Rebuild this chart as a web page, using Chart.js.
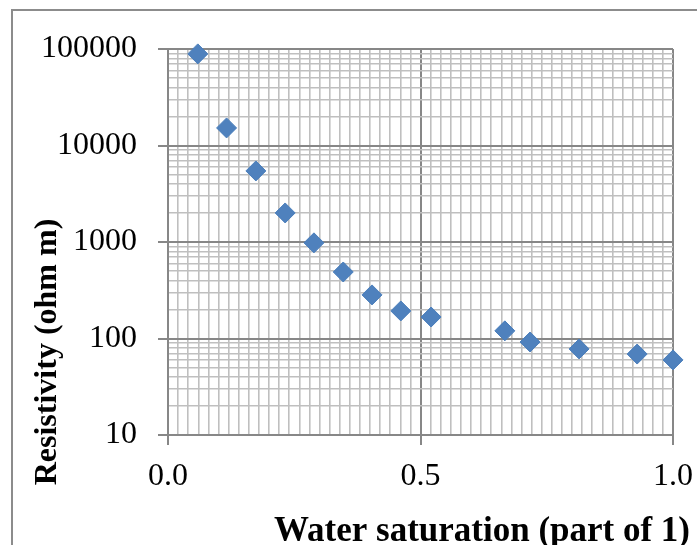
<!DOCTYPE html>
<html>
<head>
<meta charset="utf-8">
<script src="https://cdn.jsdelivr.net/npm/chart.js@4"></script>
<style>
  body { margin: 0; background: #fff; }
  #wrap { position: relative; width: 697px; height: 545px; overflow: hidden; }
  #frame { position: absolute; left: 11px; top: 9px; width: 800px; height: 700px; border: 2px solid #8c8c8c; box-sizing: border-box; }
  canvas { position: absolute; left: 0; top: 0; }
</style>
</head>
<body>
<div id="wrap">
  <div id="frame"></div>
  <canvas id="grafico" width="697" height="545"></canvas>
</div>
<script>
// datos
const saturacion = [0.059, 0.116, 0.174, 0.232, 0.289, 0.347, 0.404, 0.461, 0.521, 0.667, 0.717, 0.814, 0.929, 1.0];
const resistividad = [89000, 15200, 5450, 2000, 980, 489, 283, 193, 167, 120, 92, 78, 69, 60];
const etiquetasX = [0, 0.5, 1.0];
const etiquetasY = [10, 100, 1000, 10000, 100000];
const tituloX = 'Water saturation (part of 1)';
const tituloY = 'Resistivity (ohm m)';

const fuente = '"Liberation Serif", "Times New Roman", serif';
const colorMayor = '#878787';
const colorMenor = '#bfbfbf';

function esEtiquetaX(v) {
    return etiquetasX.some(e => Math.abs(e - v) < 1e-6);
}
function esDecada(v) {
    return etiquetasY.some(e => Math.abs(e - v) < 1e-6);
}

// titulos de los ejes, como en el original (no centrados en el area)
const titulosEjes = {
    id: 'titulosEjes',
    afterDraw(chart) {
        const ctx = chart.ctx;
        const area = chart.chartArea;
        ctx.save();
        ctx.fillStyle = '#000';
        ctx.textAlign = 'center';
        ctx.textBaseline = 'alphabetic';
        ctx.font = 'bold 35px ' + fuente;
        ctx.fillText(tituloX, area.right - 191, chart.height - 4);
        ctx.translate(56, area.bottom - 83);
        ctx.rotate(-Math.PI / 2);
        ctx.font = 'bold 32px ' + fuente;
        ctx.fillText(tituloY, 0, 0);
        ctx.restore();
    }
};

window.onload = function() {
    const ctx = document.getElementById('grafico').getContext('2d');
    const puntos = saturacion.map((x, i) => ({ x: x, y: resistividad[i] }));

    new Chart(ctx, {
        type: 'scatter',
        data: {
            datasets: [{
                data: puntos,
                pointStyle: 'rectRot',
                pointRadius: 10,
                backgroundColor: '#4f81bd',
                borderColor: '#4a7ebb',
                borderWidth: 1,
                clip: false
            }]
        },
        plugins: [titulosEjes],
        options: {
            responsive: false,
            animation: false,
            layout: { padding: { left: 0, top: 49, right: 24, bottom: 0 } },
            plugins: {
                legend: { display: false },
                tooltip: { enabled: false }
            },
            scales: {
                x: {
                    type: 'linear',
                    min: 0,
                    max: 1,
                    afterFit: s => {
                        s.height = 110;
                        s.paddingLeft = 0;
                        s.paddingRight = 0;
                    },
                    ticks: {
                        stepSize: 0.02,
                        autoSkip: false,
                        maxRotation: 0,
                        padding: 12,
                        color: '#000',
                        font: { family: fuente, size: 32 },
                        callback: v => esEtiquetaX(v) ? v.toFixed(1) : ''
                    },
                    grid: {
                        color: c => esEtiquetaX(c.tick.value) ? colorMayor : colorMenor,
                        lineWidth: c => esEtiquetaX(c.tick.value) ? 2 : 1.6,
                        tickLength: 10,
                        tickColor: c => esEtiquetaX(c.tick.value) ? colorMayor : 'rgba(0,0,0,0)'
                    },
                    border: { color: colorMayor, width: 2 }
                },
                y: {
                    type: 'logarithmic',
                    min: 10,
                    max: 100000,
                    afterFit: s => {
                        s.width = 168;
                        s.paddingTop = 0;
                        s.paddingBottom = 0;
                    },
                    afterBuildTicks: s => {
                        const marcas = [];
                        etiquetasY.slice(0, -1).forEach(d => {
                            for (let m = 1; m <= 9; m++) marcas.push({ value: d * m });
                        });
                        marcas.push({ value: etiquetasY[etiquetasY.length - 1] });
                        s.ticks = marcas;
                    },
                    ticks: {
                        autoSkip: false,
                        padding: 21,
                        color: '#000',
                        font: { family: fuente, size: 32 },
                        callback: v => esDecada(v) ? String(v) : ''
                    },
                    grid: {
                        color: c => esDecada(c.tick.value) ? colorMayor : colorMenor,
                        lineWidth: c => esDecada(c.tick.value) ? 2 : 1.6,
                        tickLength: 10,
                        tickColor: c => esDecada(c.tick.value) ? colorMayor : 'rgba(0,0,0,0)'
                    },
                    border: { color: colorMayor, width: 2 }
                }
            }
        }
    });
};
</script>
</body>
</html>
